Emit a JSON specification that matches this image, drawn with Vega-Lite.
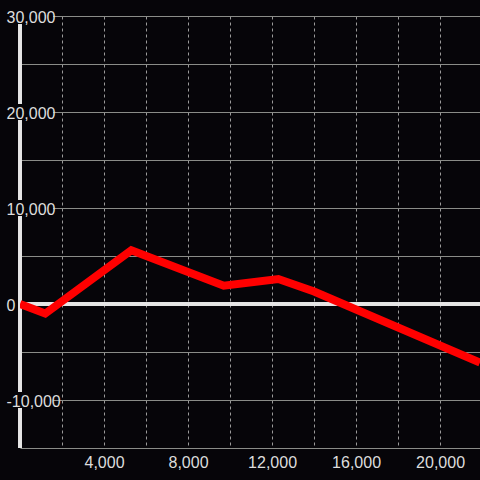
{
  "$schema": "https://vega.github.io/schema/vega-lite/v6.json",
  "width": 460,
  "height": 432,
  "autosize": {"type": "none"},
  "padding": {"left": 20, "top": 16, "right": 0, "bottom": 32},
  "background": "#060509",
  "config": {"view": {"stroke": null}, "font": "Liberation Sans"},
  "datasets": {
    "series": [
      {"x": 0, "y": 0},
      {"x": 1200, "y": -1000},
      {"x": 5300, "y": 5600},
      {"x": 9700, "y": 1900},
      {"x": 12300, "y": 2600},
      {"x": 14000, "y": 1300},
      {"x": 21900, "y": -6100}
    ],
    "labels": [{"v": 30000}, {"v": 20000}, {"v": 10000}, {"v": -10000}]
  },
  "resolve": {"axis": {"y": "independent", "x": "independent"}},
  "layer": [
    {
      "data": {"name": "series"},
      "mark": {"type": "rule", "color": "#e6e6e6", "strokeWidth": 3},
      "encoding": {
        "x": {"datum": 0, "type": "quantitative", "scale": {"domain": [0, 21900], "nice": false, "zero": false},
          "axis": {
            "orient": "bottom",
            "values": [2000, 4000, 6000, 8000, 10000, 12000, 14000, 16000, 18000, 20000],
            "grid": true, "gridDash": [3, 3], "gridColor": "#9a9a9a", "gridWidth": 1,
            "domain": false, "ticks": false, "labels": false, "title": null, "zindex": 0
          }},
        "y": {"datum": -15000, "type": "quantitative", "scale": {"domain": [-15000, 30000], "nice": false, "zero": false},
          "axis": {
            "orient": "left",
            "values": [-15000, -10000, -5000, 0, 5000, 10000, 15000, 20000, 25000, 30000],
            "grid": true, "gridColor": "#8a8c88", "gridWidth": 1,
            "domain": false, "ticks": false, "labels": false, "title": null, "zindex": 0
          }},
        "y2": {"datum": 30000}
      }
    },
    {
      "data": {"name": "series"},
      "mark": {"type": "rule", "color": "#e6e6e6", "strokeWidth": 3},
      "encoding": {
        "y": {"datum": 0, "type": "quantitative", "axis": null}
      }
    },
    {
      "data": {"name": "labels"},
      "mark": {"type": "point", "filled": true, "fill": "#060509", "opacity": 1, "strokeWidth": 0, "size": 400, "shape": "M-1.8,-0.8H3.3V0.8H-1.8Z"},
      "encoding": {
        "x": {"datum": 0, "type": "quantitative", "axis": null},
        "y": {"field": "v", "type": "quantitative", "axis": null}
      }
    },
    {
      "data": {"name": "series"},
      "mark": {"type": "line", "color": "#ff0000", "strokeWidth": 8, "clip": true, "strokeJoin": "miter"},
      "encoding": {
        "x": {"field": "x", "type": "quantitative",
          "axis": {
            "orient": "bottom",
            "values": [4000, 8000, 12000, 16000, 20000],
            "grid": false, "domain": false, "ticks": false, "tickSize": 0, "title": null, "zindex": 1,
            "labelFontSize": 16, "labelColor": "#dddddd", "labelPadding": 6, "labelBaseline": "top"
          }},
        "y": {"field": "y", "type": "quantitative",
          "axis": {
            "orient": "left",
            "values": [-10000, 0, 10000, 20000, 30000],
            "grid": false, "domain": false, "ticks": false, "tickSize": 0, "title": null, "zindex": 1,
            "labelExpr": "replace(datum.label, '\u2212', '-')",
            "labelFontSize": 16, "labelColor": "#dddddd", "labelPadding": 14, "labelAlign": "left", "labelBaseline": "middle", "labelOffset": 1
          }}
      }
    }
  ]
}
